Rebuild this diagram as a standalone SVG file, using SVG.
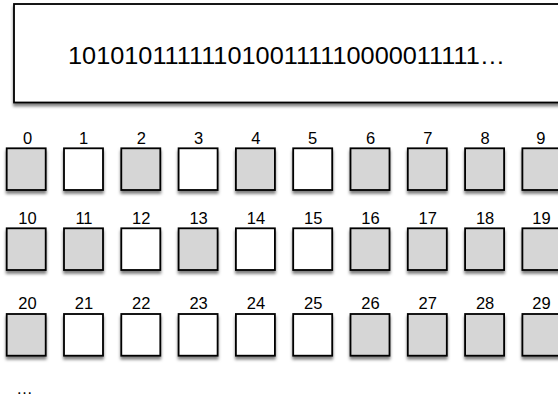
<svg xmlns="http://www.w3.org/2000/svg" width="558" height="401" viewBox="0 0 558 401">
<defs>
<filter id="sh" x="-20%" y="-20%" width="140%" height="150%">
<feDropShadow dx="0" dy="3" stdDeviation="1.6" flood-color="#000" flood-opacity="0.5"/>
</filter>
<style>
.box{stroke:#000;stroke-width:1.8;filter:url(#sh)}
.g{fill:#d6d6d6}
.w{fill:#fff}
.lbl{font-family:"Liberation Sans",Arial,sans-serif;font-size:16.5px;fill:#000;text-anchor:middle}
.big{font-family:"Liberation Sans",Arial,sans-serif;font-size:24px;fill:#000}
</style>
</defs>
<rect width="558" height="401" fill="#fff"/>
<g id="stream">
<rect class="box w" x="14" y="4" width="560" height="98.5"/>
<text class="big" x="68" y="64" textLength="437" lengthAdjust="spacingAndGlyphs">1010101111110100111110000011111…</text>
</g>
<g id="row0">
<g id="n0"><rect class="box g" x="6.7" y="148.3" width="39" height="41.7"/><text class="lbl" x="27.5" y="144">0</text></g>
<g id="n1"><rect class="box w" x="64" y="148.3" width="39" height="41.7"/><text class="lbl" x="83.5" y="144">1</text></g>
<g id="n2"><rect class="box g" x="121.3" y="148.3" width="39" height="41.7"/><text class="lbl" x="141.3" y="144">2</text></g>
<g id="n3"><rect class="box w" x="178.6" y="148.3" width="39" height="41.7"/><text class="lbl" x="198.6" y="144">3</text></g>
<g id="n4"><rect class="box g" x="235.9" y="148.3" width="39" height="41.7"/><text class="lbl" x="255.9" y="144">4</text></g>
<g id="n5"><rect class="box w" x="293.2" y="148.3" width="39" height="41.7"/><text class="lbl" x="312.5" y="144">5</text></g>
<g id="n6"><rect class="box g" x="350.5" y="148.3" width="39" height="41.7"/><text class="lbl" x="370.5" y="144">6</text></g>
<g id="n7"><rect class="box g" x="407.8" y="148.3" width="39" height="41.7"/><text class="lbl" x="427.8" y="144">7</text></g>
<g id="n8"><rect class="box g" x="465.1" y="148.3" width="39" height="41.7"/><text class="lbl" x="485.1" y="144">8</text></g>
<g id="n9"><rect class="box g" x="522.4" y="148.3" width="39" height="41.7"/><text class="lbl" x="540.8" y="144">9</text></g>
</g>
<g id="row1">
<g id="n10"><rect class="box g" x="6.7" y="228.3" width="39" height="41.7"/><text class="lbl" x="27.5" y="224">10</text></g>
<g id="n11"><rect class="box g" x="64" y="228.3" width="39" height="41.7"/><text class="lbl" x="84" y="224">11</text></g>
<g id="n12"><rect class="box w" x="121.3" y="228.3" width="39" height="41.7"/><text class="lbl" x="141.3" y="224">12</text></g>
<g id="n13"><rect class="box g" x="178.6" y="228.3" width="39" height="41.7"/><text class="lbl" x="198.6" y="224">13</text></g>
<g id="n14"><rect class="box w" x="235.9" y="228.3" width="39" height="41.7"/><text class="lbl" x="255.9" y="224">14</text></g>
<g id="n15"><rect class="box w" x="293.2" y="228.3" width="39" height="41.7"/><text class="lbl" x="313.2" y="224">15</text></g>
<g id="n16"><rect class="box g" x="350.5" y="228.3" width="39" height="41.7"/><text class="lbl" x="370.5" y="224">16</text></g>
<g id="n17"><rect class="box g" x="407.8" y="228.3" width="39" height="41.7"/><text class="lbl" x="427.8" y="224">17</text></g>
<g id="n18"><rect class="box g" x="465.1" y="228.3" width="39" height="41.7"/><text class="lbl" x="485.1" y="224">18</text></g>
<g id="n19"><rect class="box g" x="522.4" y="228.3" width="39" height="41.7"/><text class="lbl" x="541.4" y="224">19</text></g>
</g>
<g id="row2">
<g id="n20"><rect class="box g" x="6.7" y="314" width="39" height="41.7"/><text class="lbl" x="27.5" y="309.3">20</text></g>
<g id="n21"><rect class="box w" x="64" y="314" width="39" height="41.7"/><text class="lbl" x="84" y="309.3">21</text></g>
<g id="n22"><rect class="box w" x="121.3" y="314" width="39" height="41.7"/><text class="lbl" x="141.3" y="309.3">22</text></g>
<g id="n23"><rect class="box w" x="178.6" y="314" width="39" height="41.7"/><text class="lbl" x="198.6" y="309.3">23</text></g>
<g id="n24"><rect class="box w" x="235.9" y="314" width="39" height="41.7"/><text class="lbl" x="255.9" y="309.3">24</text></g>
<g id="n25"><rect class="box w" x="293.2" y="314" width="39" height="41.7"/><text class="lbl" x="313.2" y="309.3">25</text></g>
<g id="n26"><rect class="box g" x="350.5" y="314" width="39" height="41.7"/><text class="lbl" x="370.5" y="309.3">26</text></g>
<g id="n27"><rect class="box g" x="407.8" y="314" width="39" height="41.7"/><text class="lbl" x="427.8" y="309.3">27</text></g>
<g id="n28"><rect class="box g" x="465.1" y="314" width="39" height="41.7"/><text class="lbl" x="485.1" y="309.3">28</text></g>
<g id="n29"><rect class="box g" x="522.4" y="314" width="39" height="41.7"/><text class="lbl" x="541.4" y="309.3">29</text></g>
</g>
<g id="more"><text class="lbl" x="24.5" y="394">…</text></g>
<g id="connectors"/>
</svg>
